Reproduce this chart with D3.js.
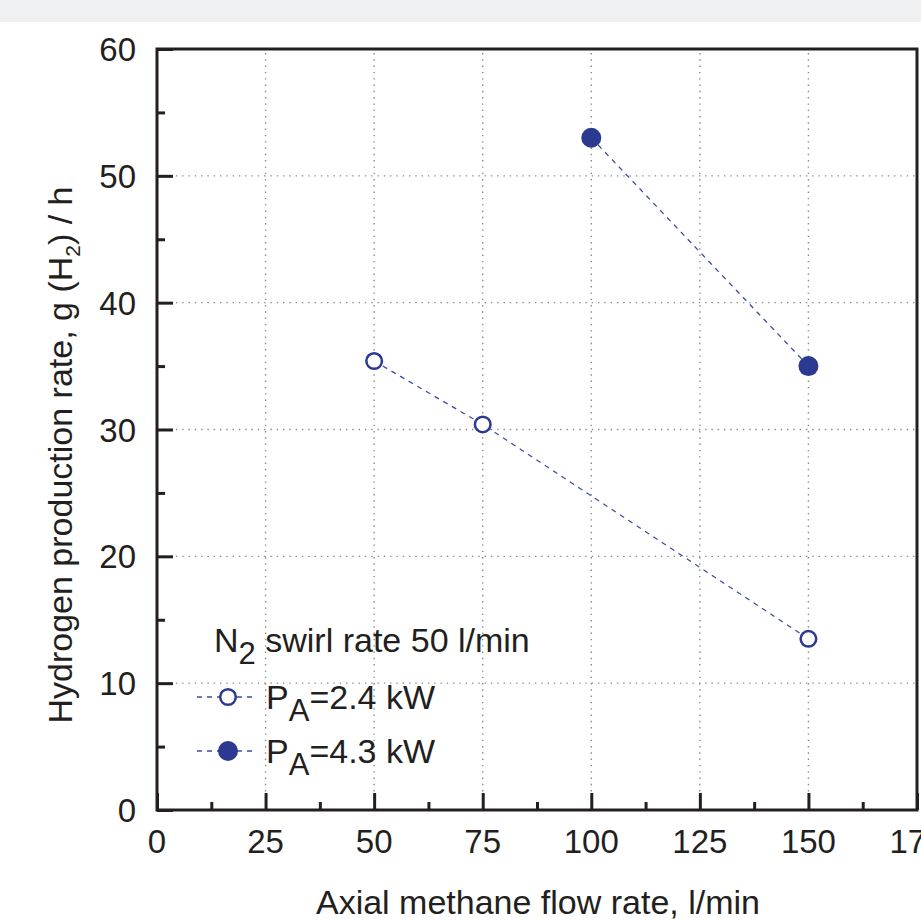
<!doctype html>
<html>
  <head>
    <script src="https://cdn.jsdelivr.net/npm/d3@7/dist/d3.min.js"></script>
    <style>
      body { margin: 0; background: #fff; }
      text { font-family: "Liberation Sans", Arial, sans-serif; fill: #231f20; }
    </style>
  </head>
  <body>
    <div id="chart"></div>
    <script>
      // data
      var flow24 = [50, 75, 150];
      var rate24 = [35.4, 30.4, 13.5];
      var flow43 = [100, 150];
      var rate43 = [53.0, 35.0];
      var xTicks = [0, 25, 50, 75, 100, 125, 150, 175];
      var yTicks = [0, 10, 20, 30, 40, 50, 60];
      var legendLabels = ["2.4 kW", "4.3 kW"];

      var W = 921, H = 921;
      var margin = {top: 49, right: 4, bottom: 111, left: 157};

      var svg = d3.select("#chart").append("svg")
        .attr("width", W).attr("height", H);

      // light band at the top of the picture
      svg.append("rect").attr("x", 0).attr("y", 0)
        .attr("width", W).attr("height", 22).attr("fill", "#eef0f2");

      var x = d3.scaleLinear().domain([0, 175]).range([margin.left, W - margin.right]);
      var y = d3.scaleLinear().domain([0, 60]).range([H - margin.bottom, margin.top]);

      var blue = "#2b3990";

      // dotted grid
      svg.append("g").selectAll("line")
        .data(xTicks.filter(function(d) { return d > 0 && d < 175; }))
        .enter().append("line")
          .attr("x1", function(d) { return x(d); }).attr("x2", function(d) { return x(d); })
          .attr("y1", y(60) + 4).attr("y2", y(0))
          .attr("stroke", "#8a8a8a").attr("stroke-width", 1.4)
          .attr("stroke-dasharray", "1.4,4.9");
      svg.append("g").selectAll("line")
        .data(yTicks.filter(function(d) { return d > 0 && d < 60; }))
        .enter().append("line")
          .attr("x1", x(0)).attr("x2", x(175))
          .attr("y1", function(d) { return y(d); }).attr("y2", function(d) { return y(d); })
          .attr("stroke", "#8a8a8a").attr("stroke-width", 1.4)
          .attr("stroke-dasharray", "1.4,4.9");

      // axes, ticks pointing inwards
      var xAxis = svg.append("g")
        .attr("transform", "translate(0," + y(0) + ")")
        .call(d3.axisBottom(x).tickValues(d3.range(0, 176, 12.5)).tickSize(-8).tickFormat(""));
      xAxis.selectAll(".tick line")
        .attr("y2", function(d) { return d % 25 === 0 ? -17 : -8; });
      xAxis.selectAll(".tick text").remove();

      var yAxis = svg.append("g")
        .attr("transform", "translate(" + x(0) + ",0)")
        .call(d3.axisLeft(y).tickValues(d3.range(0, 61, 5)).tickSize(-8).tickFormat(""));
      yAxis.selectAll(".tick line")
        .attr("x2", function(d) { return d % 10 === 0 ? 16 : 8; });
      yAxis.selectAll(".tick text").remove();

      svg.selectAll(".domain").remove();
      svg.selectAll(".tick line").attr("stroke", "#231f20").attr("stroke-width", 3);

      // frame
      svg.append("rect")
        .attr("x", x(0)).attr("y", y(60))
        .attr("width", x(175) - x(0)).attr("height", y(0) - y(60))
        .attr("fill", "none").attr("stroke", "#231f20").attr("stroke-width", 3);

      // tick labels
      svg.append("g").selectAll("text")
        .data(xTicks).enter().append("text")
          .attr("x", function(d) { return x(d); })
          .attr("y", y(0) + 43)
          .attr("text-anchor", "middle")
          .attr("font-size", 33)
          .text(function(d) { return d; });
      svg.append("g").selectAll("text")
        .data(yTicks).enter().append("text")
          .attr("x", x(0) - 21)
          .attr("y", function(d) { return y(d) + 12; })
          .attr("text-anchor", "end")
          .attr("font-size", 33)
          .text(function(d) { return d; });

      // axis titles
      svg.append("text")
        .attr("x", 538).attr("y", 914)
        .attr("text-anchor", "middle").attr("font-size", 34)
        .text("Axial methane flow rate, l/min");

      var yt = svg.append("text")
        .attr("transform", "translate(72,455) rotate(-90)")
        .attr("text-anchor", "middle").attr("font-size", 34);
      yt.append("tspan").text("Hydrogen production rate, g (H");
      yt.append("tspan").attr("font-size", 21).attr("dy", 8).text("2");
      yt.append("tspan").attr("dy", -8).text(") / h");

      // series
      var line = d3.line().x(function(d) { return x(d[0]); }).y(function(d) { return y(d[1]); });
      var s24 = d3.zip(flow24, rate24);
      var s43 = d3.zip(flow43, rate43);

      [s24, s43].forEach(function(s) {
        svg.append("path").datum(s)
          .attr("d", line).attr("fill", "none")
          .attr("stroke", "#3d4ba3").attr("stroke-width", 1.3)
          .attr("stroke-dasharray", "5,5");
      });

      svg.append("g").selectAll("circle").data(s24).enter().append("circle")
        .attr("cx", function(d) { return x(d[0]); })
        .attr("cy", function(d) { return y(d[1]); })
        .attr("r", 7.8).attr("fill", "#fff")
        .attr("stroke", blue).attr("stroke-width", 2.5);
      svg.append("g").selectAll("circle").data(s43).enter().append("circle")
        .attr("cx", function(d) { return x(d[0]); })
        .attr("cy", function(d) { return y(d[1]); })
        .attr("r", 10).attr("fill", blue);

      // legend
      var lt = svg.append("text").attr("x", 214).attr("y", 652).attr("font-size", 34);
      lt.append("tspan").text("N");
      lt.append("tspan").attr("font-size", 31).attr("dy", 12).text("2");
      lt.append("tspan").attr("dy", -12).text(" swirl rate 50 l/min");

      var rows = [{y: 697, filled: false}, {y: 751, filled: true}];
      rows.forEach(function(r, i) {
        svg.append("line")
          .attr("x1", 197).attr("x2", 256).attr("y1", r.y).attr("y2", r.y)
          .attr("stroke", "#3d4ba3").attr("stroke-width", 1.3)
          .attr("stroke-dasharray", "5,5");
        if (r.filled) {
          svg.append("circle").attr("cx", 228).attr("cy", r.y).attr("r", 10).attr("fill", blue);
        } else {
          svg.append("circle").attr("cx", 228).attr("cy", r.y).attr("r", 7.8)
            .attr("fill", "#fff").attr("stroke", blue).attr("stroke-width", 2.5);
        }
        var t = svg.append("text").attr("x", 266).attr("y", r.y + 12).attr("font-size", 34);
        t.append("tspan").text("P");
        t.append("tspan").attr("font-size", 31).attr("dy", 12).text("A");
        t.append("tspan").attr("dy", -12).text("=" + legendLabels[i]);
      });
    </script>
  </body>
</html>
